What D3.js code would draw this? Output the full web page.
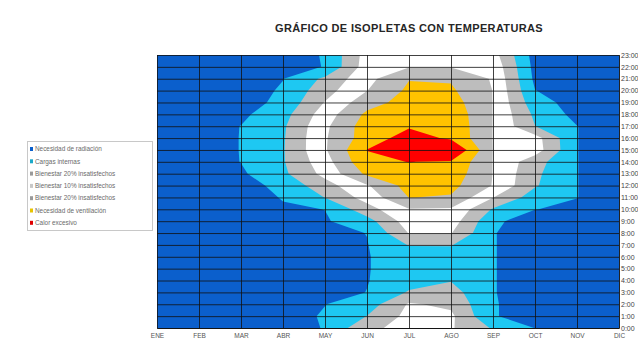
<!DOCTYPE html>
<html>
<head>
<meta charset="utf-8">
<script src="https://cdn.jsdelivr.net/npm/d3@7"></script>
<style>
  body { margin: 0; background: #fff; }
  svg { display: block; font-family: "Liberation Sans", Arial, sans-serif; }
</style>
</head>
<body>
<svg id="chart" width="638" height="350"></svg>
<script>
// ---------------- DATA ----------------
const months = ["ENE", "FEB", "MAR", "ABR", "MAY", "JUN", "JUL", "AGO", "SEP", "OCT", "NOV", "DIC"];
const hourLabels = ["0:00","1:00","2:00","3:00","4:00","5:00","6:00","7:00","8:00","9:00","10:00","11:00",
                    "12:00","13:00","14:00","15:00","16:00","17:00","18:00","19:00","20:00","21:00","22:00","23:00"];

// comfort level (band index) read per month, hours 0:00 .. 23:00
const ENE = [0.3,0.3,0.3,0.3,0.3,0.3,0.3,0.3,0.3,0.3,0.3,0.3,0.3,0.3,0.3,0.3,0.3,0.3,0.3,0.3,0.3,0.3,0.3,0.3];
const FEB = [0.5,0.5,0.5,0.5,0.5,0.5,0.5,0.5,0.5,0.5,0.5,0.5,0.5,0.5,0.5,0.5,0.5,0.5,0.5,0.5,0.5,0.5,0.5,0.5];
const MAR = [0.6,0.6,0.6,0.6,0.6,0.6,0.6,0.6,0.6,0.6,0.6,0.6,0.6,0.85,1.02,1.03,1.03,1.02,0.8,0.6,0.6,0.6,0.6,0.6];
const ABR = [0.6,0.6,0.7,0.7,0.7,0.7,0.7,0.7,0.7,0.7,0.9,1.05,1.3,1.8,1.92,1.92,1.9,1.85,1.63,1.25,1.1,0.98,0.8,0.7];
const MAY = [1.05,1.1,0.98,0.6,0.5,0.5,0.5,0.55,0.7,0.9,1.01,2.02,2.6,3.3,3.6,3.9,3.9,3.8,3.5,3.05,2.6,2.2,1.02,1.05];
const JUN = [2.8,2.02,1.5,1.02,0.96,0.95,0.95,0.96,1.02,1.6,2.6,3.4,3.9,5.2,5.8,6.02,5.5,5.5,5.2,4.6,3.98,3.7,3.5,3.4];
const JUL = [3.3,3.3,3.1,2.1,1.6,1.5,1.5,2.05,3.05,3.5,3.95,5.02,5.4,5.7,6.02,6.5,6.4,5.9,5.6,5.4,5.2,4.95,3.95,3.6];
const AGO = [3.1,3.2,2.8,2.4,1.95,1.6,1.6,2.05,3.05,3.5,3.9,4.9,5.3,5.6,5.9,7.2,5.85,5.8,5.7,5.45,5.15,4.9,3.95,3.6];
const SEP = [1.9,1.05,1.05,1.03,1.03,1.03,1.03,1.03,1.03,1.2,1.9,3.02,3.95,3.98,3.98,3.98,3.98,3.98,3.98,3.98,3.98,3.9,3.7,3.4];
const OCT = [0.98,0.7,0.7,0.7,0.7,0.7,0.7,0.7,0.7,0.5,1.02,1.5,2.1,2.2,2.4,3.5,3.4,2.02,1.8,1.4,1.02,0.8,0.7,0.6];
const NOV = [0.5,0.5,0.5,0.5,0.5,0.5,0.5,0.5,0.5,0.5,0.8,1.02,1.02,1.02,1.02,1.02,1.02,1.02,0.7,0.6,0.5,0.5,0.5,0.5];
const DIC = [0.4,0.4,0.4,0.4,0.4,0.4,0.4,0.4,0.4,0.4,0.4,0.4,0.4,0.4,0.4,0.4,0.4,0.4,0.4,0.4,0.4,0.4,0.4,0.4];
const monthSeries = [ENE, FEB, MAR, ABR, MAY, JUN, JUL, AGO, SEP, OCT, NOV, DIC];

const bandThresholds = [1, 2, 3, 4, 5, 6];
const bandColors = ["#0b5fcc", "#1ec8f2", "#bdbdbd", "#ffffff", "#bdbdbd", "#ffc300", "#ff0000"];
const legendLabels = ["Necesidad de radiación", "Cargas internas", "Bienestar 20% insatisfechos",
                      "Bienestar 10% insatisfechos", "Bienestar 20% insatisfechos",
                      "Necesidad de ventilación", "Calor excesivo"];
const legendMarkers = ["#0b5fcc", "#1aa9c9", "#9a9a9a", "#c8c8c8", "#9a9a9a", "#e8c400", "#e00000"];
const title = "GRÁFICO DE ISOPLETAS CON TEMPERATURAS";

// ---------------- LAYOUT ----------------
const plot = { left: 157, right: 619, top: 55, bottom: 328 };
const svg = d3.select("#chart");

const x = d3.scaleLinear().domain([0, months.length - 1]).range([plot.left, plot.right]);
const y = d3.scaleLinear().domain([0, hourLabels.length - 1]).range([plot.bottom, plot.top]);

const nx = months.length, ny = hourLabels.length;
const grid = new Array(nx * ny);
for (let j = 0; j < ny; j++) for (let i = 0; i < nx; i++) grid[j * nx + i] = monthSeries[i][j];

const contours = d3.contours().size([nx, ny]).thresholds(bandThresholds)(grid);
const proj = d3.geoTransform({
  point: function (px, py) { this.stream.point(x(px - 0.5), y(py - 0.5)); }
});
const path = d3.geoPath(proj);

svg.append("defs").append("clipPath").attr("id", "plotClip")
  .append("rect")
  .attr("x", plot.left).attr("y", plot.top)
  .attr("width", plot.right - plot.left).attr("height", plot.bottom - plot.top);

const bands = svg.append("g").attr("clip-path", "url(#plotClip)");
bands.append("rect")
  .attr("x", plot.left).attr("y", plot.top)
  .attr("width", plot.right - plot.left).attr("height", plot.bottom - plot.top)
  .attr("fill", bandColors[0]);
bands.selectAll("path.band").data(contours).join("path")
  .attr("class", "band")
  .attr("d", path)
  .attr("fill", (d, k) => bandColors[k + 1]);

// ---------------- AXES / GRID ----------------
const xAxis = d3.axisBottom(x)
  .tickValues(d3.range(nx))
  .tickFormat(i => months[i])
  .tickSize(-(plot.bottom - plot.top))
  .tickSizeOuter(0)
  .tickPadding(5);
const gx = svg.append("g").attr("transform", `translate(0,${plot.bottom})`).call(xAxis);
gx.select(".domain").attr("stroke", "#222");
gx.selectAll(".tick line").attr("stroke", "#111").attr("stroke-opacity", 0.8);
gx.selectAll(".tick text").attr("font-size", 6.5).attr("fill", "#555")
  .attr("font-family", "'Liberation Sans', Arial, sans-serif");

const yAxis = d3.axisRight(y)
  .tickValues(d3.range(ny))
  .tickFormat(h => hourLabels[h])
  .tickSize(-(plot.right - plot.left))
  .tickSizeOuter(0)
  .tickPadding(2);
const gy = svg.append("g").attr("transform", `translate(${plot.right},0)`).call(yAxis);
gy.select(".domain").attr("stroke", "#222");
gy.selectAll(".tick line").attr("stroke", "#111").attr("stroke-opacity", 0.8);
gy.selectAll(".tick text").attr("font-size", 7).attr("fill", "#444")
  .attr("font-family", "'Liberation Sans', Arial, sans-serif");

// ---------------- TITLE ----------------
svg.append("text")
  .attr("x", 409).attr("y", 32)
  .attr("text-anchor", "middle")
  .attr("font-size", 11).attr("font-weight", "bold").attr("fill", "#262626")
  .attr("letter-spacing", 0.35)
  .text(title);

// ---------------- LEGEND ----------------
const lg = svg.append("g");
lg.append("rect")
  .attr("x", 27.5).attr("y", 141.5).attr("width", 125).attr("height", 89)
  .attr("fill", "none").attr("stroke", "#c8c8c8");
const items = lg.selectAll("g.item").data(legendLabels).join("g")
  .attr("class", "item")
  .attr("transform", (d, i) => `translate(30,${149 + i * 12.3})`);
items.append("rect")
  .attr("x", 0).attr("y", -2).attr("width", 3).attr("height", 4)
  .attr("fill", (d, i) => legendMarkers[i]);
items.append("text")
  .attr("x", 5).attr("y", 0).attr("dy", "0.35em")
  .attr("font-size", 6.4).attr("fill", "#6a6a6a")
  .text(d => d);
</script>
</body>
</html>
